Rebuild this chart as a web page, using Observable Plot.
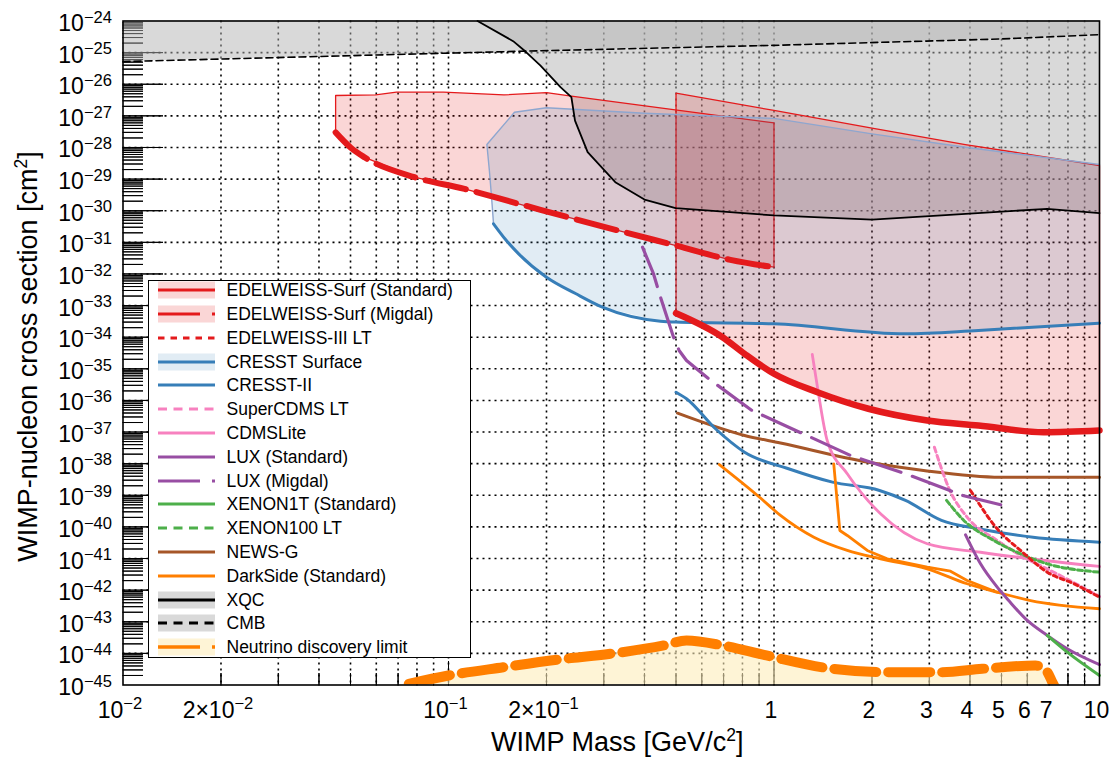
<!DOCTYPE html>
<html>
<head>
<meta charset="utf-8">
<script src="https://cdn.jsdelivr.net/npm/d3@7"></script>
<script src="https://cdn.jsdelivr.net/npm/@observablehq/plot@0.6"></script>
<style>
  body { margin: 0; background: #fff; }
  #wrap { position: relative; width: 1112px; height: 757px; font-family: "Liberation Sans", Arial, Helvetica, sans-serif; }
  #legend { position: absolute; left: 148px; top: 280px; width: 323px; height: 378px; box-sizing: border-box;
            background: #fff; border: 1.5px solid #000; }
  .lrow { position: absolute; left: 0; height: 20px; width: 100%; }
  .lrow svg { position: absolute; left: 8.5px; top: 0; }
  .lrow span { position: absolute; left: 77.5px; top: 0; line-height: 20px; font-size: 17.5px; color: #000; white-space: nowrap; }
</style>
</head>
<body>
<div id="wrap"></div>
<script>
// ---------------- data (WIMP mass [GeV/c^2], cross section [cm^2]) ----------------
const cmbLimit = [[0.01,5.2e-26],[0.164,1.1e-25],[1,1.7e-25],[4.97,2.7e-25],[10,3.7e-25]];
const xqcLimit = [[0.1228,1e-24],[0.158,2.3e-25],[0.1724,1.08e-25],[0.1917,3.9e-26],[0.2208,8.1e-27],
  [0.2385,3.9e-27],[0.2447,7.1e-28],[0.2676,7.1e-29],[0.3254,8.0e-30],[0.40,2.26e-30],[0.4985,1.2e-30],
  [1.0,7.1e-31],[2.0,5.2e-31],[3.27,7.1e-31],[6.9,1.15e-30],[10,8.4e-31]];
const edwMigdalUpper = [[0.045,4.4e-27],[0.0597,4.6e-27],[0.0692,5.6e-27],[0.0965,5.6e-27],[0.148,4.6e-27],
  [0.2,5.4e-27],[0.2385,4.2e-27],[1.0,6.0e-28]];
const edwMigdalLimit = [[0.045,3.0e-28],[0.05,1.0e-28],[0.0552,4.9e-29],[0.0786,1.15e-29],[0.112,4.9e-30],
  [0.164,1.66e-30],[0.1917,1.07e-30],[0.347,2.1e-31],[0.5,7.9e-32],[0.7345,2.8e-32],[1.0,1.64e-32]];
const edwStdUpper = [[0.5,5.2e-27],[1.0,1.48e-27],[2.0,4.07e-28],[3.87,1.24e-28],[10,2.69e-29]];
const edwStdLimit = [[0.5,5.74e-34],[0.695,1.0e-34],[0.812,2.98e-35],[1.0,6.97e-36],[1.36,1.82e-36],
  [1.95,5.45e-37],[2.96,2.32e-37],[4.25,1.61e-37],[6.73,9.9e-38],[10,1.12e-37]];
const cresstSurfUpper = [[0.1375,3.9e-31],[0.1356,2.7e-30],[0.1335,1.9e-29],[0.1312,1.24e-28],[0.1595,1.3e-27],
  [0.2,1.8e-27],[0.4,1.21e-27],[1.0,8.3e-28],[2.0,2.7e-28],[3.87,1.02e-28],[10,2.9e-29]];
const cresstSurfLimit = [[0.1375,3.86e-31],[0.1497,1.23e-31],[0.164,4.4e-32],[0.2,7.9e-33],[0.2456,2.4e-33],
  [0.297,8.9e-34],[0.448,3.2e-34],[0.5,3.0e-34],[1.0,2.65e-34],[2.535,1.28e-34],[4.25,1.63e-34],[10,2.77e-34]];
const cresstII = [[0.5,1.82e-36],[0.5385,1.13e-36],[0.661,1.27e-37],[0.812,2.31e-38],[1.108,6.9e-39],
  [1.512,2.6e-39],[2.11,1.42e-39],[2.535,6.9e-40],[3.27,1.6e-40],[4.25,8.7e-41],[6.25,4.7e-41],[10,3.3e-41]];
const newsG = [[0.5054,3.95e-37],[0.812,7.8e-38],[1.047,4.5e-38],[1.95,1.11e-38],[2.88,6.1e-39],
  [4.96,3.73e-39],[10,3.73e-39]];
const darkSideA = [[0.679,9.4e-39],[0.903,8.7e-40],[1.047,2.3e-40],[1.326,4.7e-41],[1.679,1.8e-41],
  [2.125,9.8e-42],[2.957,4.73e-42],[3.92,1.59e-42],[4.85,8.6e-43],[6.14,4.7e-43],[10,2.58e-43]];
const darkSideB = [[1.526,9.9e-39],[1.593,7.7e-41],[1.679,5.36e-41],[1.934,1.8e-41],[2.227,9.8e-42],
  [2.957,5.3e-42],[3.485,3.98e-42],[3.92,2.02e-42],[4.85,8.6e-43]];
const cdmsLite = [[1.311,2.84e-35],[1.36,2.62e-36],[1.457,5.4e-38],[1.679,4.8e-39],[2.125,2.6e-40],
  [2.957,2.93e-41],[4.31,1.58e-41],[10,5.6e-42]];
const superCdmsLT = [[3.11,3.3e-38],[3.47,1.42e-39],[3.92,2.03e-40],[4.85,3.72e-41],[5.85,1.1e-41],
  [6.91,4.7e-42],[10,6.3e-43]];
const edw3LT = [[4.015,1.42e-39],[4.9,7.7e-41],[5.72,1.8e-41],[6.91,3.7e-42],[8.34,1.59e-42],[10,6.0e-43]];
const xenon100LT = [[3.39,6.9e-40],[3.83,1.6e-40],[4.74,3.7e-41],[5.72,1.41e-41],[6.91,6.8e-42],[10,3.7e-42]];
const luxMigdal = [[0.3945,7.0e-32],[0.4265,1.0e-32],[0.448,1.84e-33],[0.4913,1.0e-34],[0.5111,3.8e-35],
  [0.5385,1.83e-35],[0.6293,4.9e-36],[0.856,4.8e-37],[1.229,8.8e-38],[1.718,1.82e-38],[2.535,4.8e-39],
  [3.47,1.42e-39],[3.72,1.04e-39],[4.97,5.0e-40]];
const luxStd = [[3.877,5.6e-41],[4.31,6.8e-42],[4.85,1.24e-42],[5.26,4.7e-43],[6.0,1.1e-43],[6.91,3.7e-44],
  [7.96,1.4e-44],[10,4.4e-45]];
const xenon1T = [[6.91,3.7e-44],[7.96,1.09e-44],[10,2.0e-45]];
const neutrinoFloor = [[0.0755,1.09e-45],[0.1,2.0e-45],[0.148,3.66e-45],[0.2158,6.3e-45],[0.3146,9.7e-45],
  [0.4585,1.78e-44],[0.5385,2.55e-44],[0.6966,1.78e-44],[0.948,8.6e-45],[1.512,3.26e-45],[2.226,2.55e-45],
  [3.27,2.55e-45],[4.36,3.26e-45],[6.36,4.14e-45],[6.91,2.55e-45],[7.16,1.23e-45],[7.38,6.8e-46]];

const xDomain = [0.01, 10];
const yDomain = [1e-45, 1e-24];
const xTickValues = [0.01, 0.02, 0.1, 0.2, 1, 2, 3, 4, 5, 6, 7, 10];
const xTickLabels = ["10^{−2}", "2×10^{−2}", "10^{−1}", "2×10^{−1}", "1", "2", "3", "4", "5", "6", "7", "10"];
const yExponents = d3.range(-45, -23);
const yTickLabels = yExponents.map(e => `10^{−${-e}}`);
const xTitle = "WIMP Mass [GeV/c^{2}]";
const yTitle = "WIMP-nucleon cross section [cm^{2}]";

const C = {red: "#e41a1c", blue: "#377eb8", green: "#4daf4a", purple: "#984ea3", orange: "#ff7f00", brown: "#a65628", pink: "#f781bf"};

// ---------------- derived tick positions ----------------
const yDecades = yExponents.map(e => Number(`1e${e}`));
const yGrid = yDecades.filter(v => v > yDomain[0] && v < yDomain[1]);
const yMinor = [];
for (let e = -45; e < -24; e++) for (let j = 2; j <= 9; j++) yMinor.push(Number(`${j}e${e}`));
const xMinor = [];
for (let e = -2; e <= 0; e++) for (let j = 2; j <= 9; j++) xMinor.push(Number(`${j}e${e}`));
const xMajor = [0.1, 1];
const xGrid = [...xMinor, ...xMajor];

const X = d => d[0], Y = d => d[1];
const poly = (upper, lower) => { const p = [...upper, ...lower.slice().reverse()]; p.push(upper[0]); return p; };

const tick = (data, opts) => Plot.vector(data, {shape: "spike", r: 0, stroke: "black", fill: "none", strokeWidth: 1, anchor: "start", ...opts});

const chart = Plot.plot({
  width: 1112, height: 757,
  marginLeft: 122.5, marginRight: 13, marginTop: 20.5, marginBottom: 72.5,
  style: {background: "white", fontFamily: '"Liberation Sans", Arial, Helvetica, sans-serif', color: "black"},
  x: {type: "log", domain: xDomain, axis: null},
  y: {type: "log", domain: yDomain, axis: null},
  marks: [
    // grid
    Plot.ruleY(yGrid, {stroke: "black", strokeWidth: 1.6, strokeDasharray: "2,4"}),
    Plot.ruleX(xGrid, {stroke: "black", strokeWidth: 1.6, strokeDasharray: "2,4"}),
    // ticks
    tick(yMinor, {y: d => d, frameAnchor: "left", rotate: 90, length: 20}),
    tick(yGrid, {y: d => d, frameAnchor: "left", rotate: 90, length: 40}),
    tick(xMinor, {x: d => d, frameAnchor: "bottom", rotate: 0, length: 12}),
    tick(xMajor, {x: d => d, frameAnchor: "bottom", rotate: 0, length: 24}),
    // filled regions
    Plot.areaY(cmbLimit, {x: X, y1: Y, y2: yDomain[1], fill: "#b3b3b3", fillOpacity: 0.5}),
    Plot.areaY(xqcLimit, {x: X, y1: Y, y2: yDomain[1], fill: "#b3b3b3", fillOpacity: 0.5}),
    Plot.line(poly(edwMigdalUpper, edwMigdalLimit), {x: X, y: Y, fill: C.red, fillOpacity: 0.18, stroke: C.red, strokeWidth: 1.3}),
    Plot.line(poly(edwStdUpper, edwStdLimit), {x: X, y: Y, fill: C.red, fillOpacity: 0.18, stroke: C.red, strokeWidth: 1.3}),
    Plot.line(poly(cresstSurfUpper, cresstSurfLimit), {x: X, y: Y, fill: C.blue, fillOpacity: 0.15, stroke: "none"}),
    Plot.line(cresstSurfUpper, {x: X, y: Y, stroke: "#8ea6cf", strokeWidth: 1.4}),
    Plot.areaY(neutrinoFloor, {x: X, y1: yDomain[0], y2: Y, curve: "monotone-x", fill: "#fdecbb", fillOpacity: 0.6, clip: true}),
    // limits
    Plot.line(cmbLimit, {x: X, y: Y, stroke: "black", strokeWidth: 1.6, strokeDasharray: "7,4"}),
    Plot.line(xqcLimit, {x: X, y: Y, stroke: "black", strokeWidth: 1.8}),
    Plot.line(cresstSurfLimit, {x: X, y: Y, stroke: C.blue, strokeWidth: 3, curve: "monotone-x"}),
    Plot.line(newsG, {x: X, y: Y, stroke: C.brown, strokeWidth: 3, curve: "monotone-x"}),
    Plot.line(cresstII, {x: X, y: Y, stroke: C.blue, strokeWidth: 3, curve: "monotone-x"}),
    Plot.line(darkSideA, {x: X, y: Y, stroke: C.orange, strokeWidth: 2.8, curve: "monotone-x"}),
    Plot.line(darkSideB, {x: X, y: Y, stroke: C.orange, strokeWidth: 2.8}),
    Plot.line(cdmsLite, {x: X, y: Y, stroke: C.pink, strokeWidth: 2.8, curve: "monotone-x"}),
    Plot.line(superCdmsLT, {x: X, y: Y, stroke: C.pink, strokeWidth: 3, strokeDasharray: "5,3.5", curve: "monotone-x"}),
    Plot.line(xenon100LT, {x: X, y: Y, stroke: C.green, strokeWidth: 3, strokeDasharray: "5,3", curve: "monotone-x"}),
    Plot.line(edw3LT, {x: X, y: Y, stroke: C.red, strokeWidth: 3, strokeDasharray: "4,3.5", curve: "monotone-x"}),
    Plot.line(luxMigdal, {x: X, y: Y, stroke: C.purple, strokeWidth: 3.2, strokeDasharray: "42,12"}),
    Plot.line(luxStd, {x: X, y: Y, stroke: C.purple, strokeWidth: 3, curve: "monotone-x"}),
    Plot.line(xenon1T, {x: X, y: Y, stroke: C.green, strokeWidth: 3, curve: "monotone-x"}),
    Plot.line(edwMigdalLimit, {x: X, y: Y, stroke: C.red, strokeWidth: 6, strokeDasharray: "41,11", curve: "monotone-x"}),
    Plot.line(edwStdLimit, {x: X, y: Y, stroke: C.red, strokeWidth: 6.5, curve: "monotone-x"}),
    Plot.line(neutrinoFloor, {x: X, y: Y, stroke: C.orange, strokeWidth: 10, strokeDasharray: "42,12", curve: "monotone-x", clip: true}),
    Plot.frame({stroke: "black", strokeWidth: 1.6}),
    // tick labels
    Plot.text(yDecades, {y: d => d, text: (d, i) => yTickLabels[i], frameAnchor: "left", textAnchor: "end",
      dx: -11, dy: 10, lineAnchor: "bottom", fontSize: 23, fill: "black", className: "ticklab"}),
    Plot.text(xTickValues, {x: d => d, text: (d, i) => xTickLabels[i], frameAnchor: "bottom", textAnchor: "middle",
      dx: -3, dy: 32.5, lineAnchor: "bottom", fontSize: 23, fill: "black", className: "ticklab"}),
    // titles
    Plot.text([yTitle], {text: d => d, frameAnchor: "left", textAnchor: "middle", rotate: -90, dx: -86.5, dy: 3.5,
      lineAnchor: "bottom", fontSize: 27, fill: "black"}),
    Plot.text([xTitle], {text: d => d, frameAnchor: "bottom", textAnchor: "middle", dx: 6, dy: 65.5,
      lineAnchor: "bottom", fontSize: 27, fill: "black"})
  ]
});

const wrap = document.getElementById("wrap");
wrap.appendChild(chart);

// superscripts: "a^{b}c"
d3.select(chart).selectAll("text").each(function () {
  const t = this.textContent;
  if (!t.includes("^{")) return;
  const isTick = !!this.closest(".ticklab");
  const base = parseFloat(getComputedStyle(this).fontSize) || 20;
  const sz = base * (isTick ? 0.72 : 0.65), sh = base * 0.36;
  const parts = t.split(/\^\{([^}]*)\}/);
  const el = d3.select(this);
  el.text(null);
  let raised = false;
  parts.forEach((p, i) => {
    if (!p) return;
    const sup = i % 2 === 1;
    const ts = el.append("tspan").text(p);
    if (sup) { ts.attr("font-size", sz).attr("dy", -sh); raised = true; }
    else if (raised) { ts.attr("dy", sh); raised = false; }
  });
});

// ---------------- legend ----------------
const legendItems = [
  {label: "EDELWEISS-Surf (Standard)", color: C.red, band: "rgba(228,26,28,0.18)", dash: null, w: 3},
  {label: "EDELWEISS-Surf (Migdal)", color: C.red, band: "rgba(228,26,28,0.18)", dash: "42,12", w: 3},
  {label: "EDELWEISS-III LT", color: C.red, band: null, dash: "6.5,6", w: 3},
  {label: "CRESST Surface", color: C.blue, band: "rgba(55,126,184,0.15)", dash: null, w: 3},
  {label: "CRESST-II", color: C.blue, band: null, dash: null, w: 3},
  {label: "SuperCDMS LT", color: C.pink, band: null, dash: "9,6.5", w: 3},
  {label: "CDMSLite", color: C.pink, band: null, dash: null, w: 3},
  {label: "LUX (Standard)", color: C.purple, band: null, dash: null, w: 3},
  {label: "LUX (Migdal)", color: C.purple, band: null, dash: "42,12", w: 3},
  {label: "XENON1T (Standard)", color: C.green, band: null, dash: null, w: 3},
  {label: "XENON100 LT", color: C.green, band: null, dash: "9,6.5", w: 3},
  {label: "NEWS-G", color: C.brown, band: null, dash: null, w: 3},
  {label: "DarkSide (Standard)", color: C.orange, band: null, dash: null, w: 3},
  {label: "XQC", color: "#000", band: "#d9d9d9", dash: null, w: 3},
  {label: "CMB", color: "#000", band: "#d9d9d9", dash: "9,6.5", w: 3},
  {label: "Neutrino discovery limit", color: C.orange, band: "#fef4d6", dash: "42,12", w: 3.5}
];
const lg = d3.select(wrap).append("div").attr("id", "legend");
legendItems.forEach((it, i) => {
  const row = lg.append("div").attr("class", "lrow").style("top", (9.3 + i * 23.79 - 10) + "px");
  const s = row.append("svg").attr("width", 57).attr("height", 20);
  if (it.band) s.append("rect").attr("x", 0).attr("y", 1.5).attr("width", 57).attr("height", 17).attr("fill", it.band);
  const ln = s.append("line").attr("x1", 0).attr("x2", 57).attr("y1", 10).attr("y2", 10)
    .attr("stroke", it.color).attr("stroke-width", it.w);
  if (it.dash) ln.attr("stroke-dasharray", it.dash);
  row.append("span").text(it.label);
});
</script>
</body>
</html>
